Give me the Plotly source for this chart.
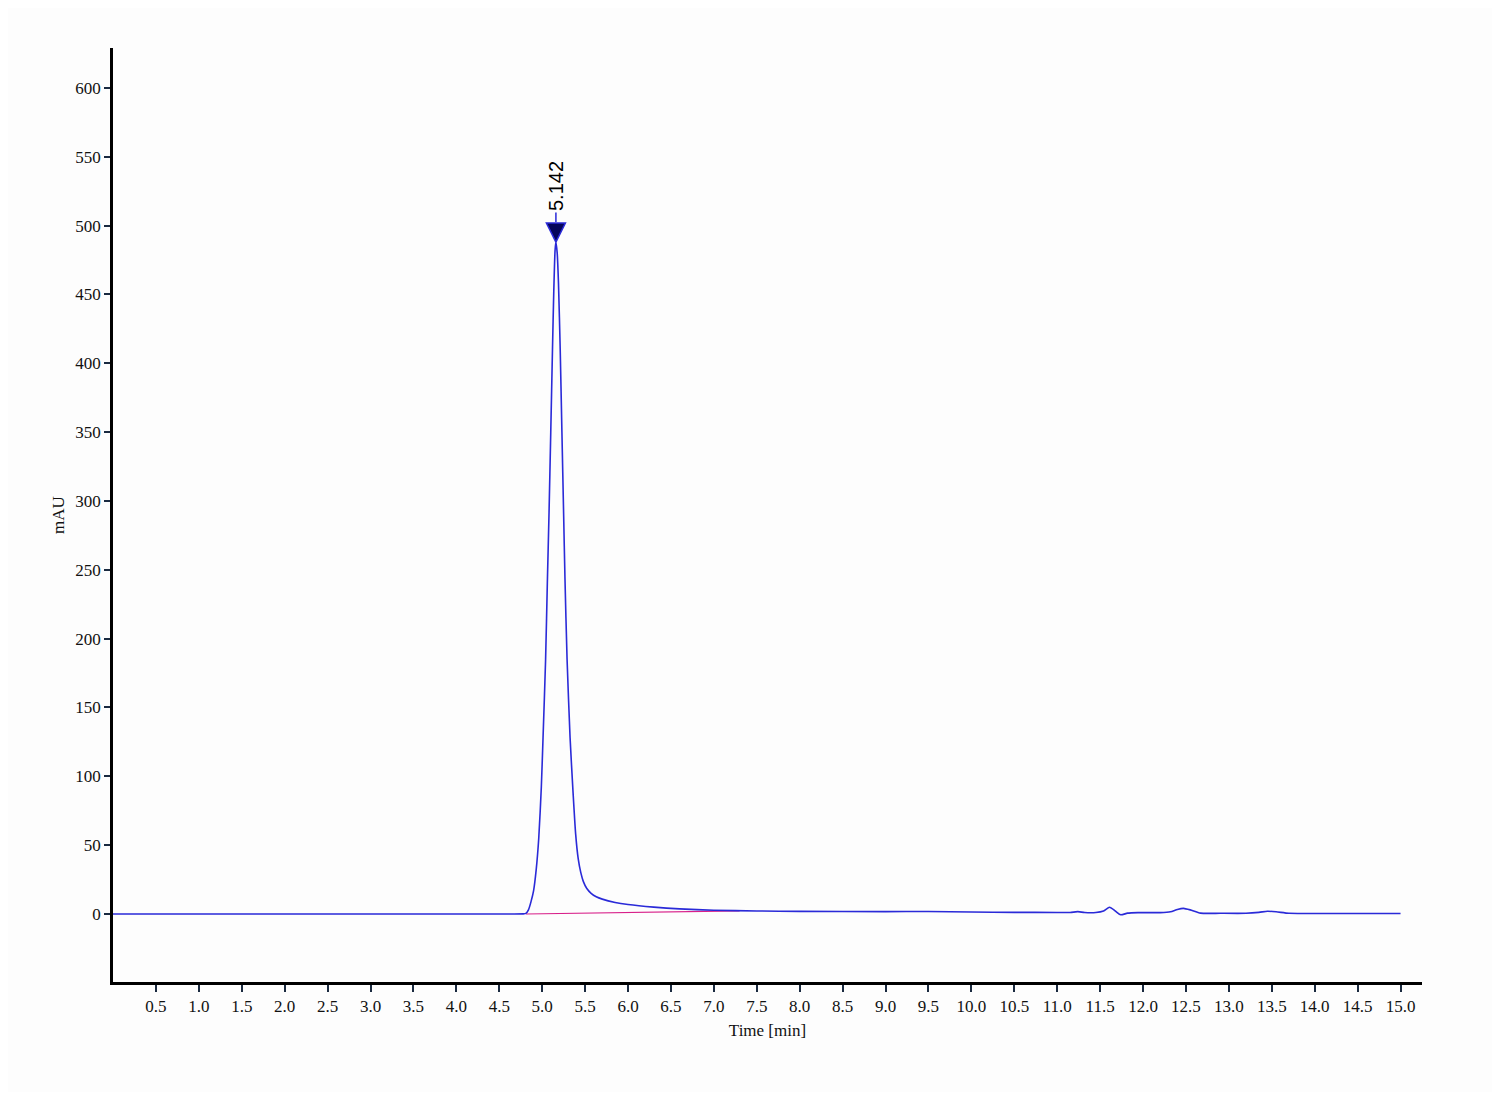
import plotly.graph_objects as go

# Chromatogram trace (Time [min], mAU)
time_min = [0, 1, 2, 3, 4, 4.5, 4.78, 4.81, 4.84, 4.87, 4.90, 4.93, 4.96, 4.99, 5.01,
            5.04, 5.06, 5.08, 5.10, 5.12, 5.135, 5.15, 5.16, 5.175, 5.19, 5.21, 5.23,
            5.25, 5.265, 5.29, 5.325, 5.36, 5.39, 5.42, 5.45, 5.48, 5.52, 5.57, 5.63,
            5.7, 5.85, 6.0, 6.3, 6.6, 7.0, 7.5, 8.0, 9.0, 9.5, 10.0, 10.5, 11.0, 11.15,
            11.24, 11.32, 11.45, 11.54, 11.61, 11.68, 11.74, 11.82, 11.94, 12.2, 12.32,
            12.40, 12.47, 12.55, 12.67, 12.9, 13.2, 13.35, 13.45, 13.55, 13.7, 14.0, 15.0]
signal_mau = [0, 0, 0, 0, 0, 0, 0.05, 0.4, 3, 9, 17, 32, 55, 92, 128,
              185, 240, 292, 350, 410, 452, 482, 488, 480, 458, 410, 350,
              290, 245, 185, 128, 88, 58, 40, 30, 23.5, 18.5, 15, 12.5,
              10.8, 8.4, 6.9, 5.0, 3.7, 2.7, 2.2, 1.9, 1.7, 1.8, 1.4, 1.2, 1.1, 1.1,
              1.7, 1.1, 1.1, 2.2, 4.9, 2.0, -0.6, 0.6, 1.0, 1.0, 1.6,
              3.3, 4.1, 3.0, 0.6, 0.5, 0.5, 1.2, 2.0, 1.6, 0.5, 0.4, 0.4]

# Integration baseline of the main peak
baseline_time = [4.81, 7.3]
baseline_mau = [0.0, 2.3]

# Peak label
peak_label = "5.142"

# Axis ticks
x_ticks = [0.5 * i for i in range(1, 31)]
y_ticks = [50 * i for i in range(0, 13)]

apex_idx = signal_mau.index(max(signal_mau))
apex_t = time_min[apex_idx]
apex_v = signal_mau[apex_idx]

fig = go.Figure()
fig.add_trace(go.Scatter(x=baseline_time, y=baseline_mau, mode="lines",
                         line=dict(color="#d8208a", width=1.2), hoverinfo="skip"))
fig.add_trace(go.Scatter(x=time_min, y=signal_mau, mode="lines",
                         line=dict(color="#2a2ad8", width=1.6, shape="spline", smoothing=0.6)))
# downward arrowhead whose tip sits on the apex
fig.add_trace(go.Scatter(x=[apex_t], y=[apex_v], mode="markers",
                         marker=dict(symbol="arrow-down", size=19, color="#05055a",
                                     line=dict(color="#2a2ad8", width=1.5)),
                         hoverinfo="skip"))

fig.add_annotation(x=apex_t, y=apex_v, text=peak_label, textangle=-90,
                   showarrow=True, arrowhead=0, arrowwidth=1.5, arrowcolor="#2a2ad8",
                   ax=0, ay=-56, standoff=20,
                   font=dict(family="Liberation Sans", size=20, color="#000000"))

axis_font = dict(family="Liberation Serif", size=17, color="#111111")
fig.update_layout(
    width=1484, height=1084,
    margin=dict(l=105, r=70, t=40, b=110),
    paper_bgcolor="#fdfdfd", plot_bgcolor="#fdfdfd",
    showlegend=False,
    xaxis=dict(range=[0, 15.25], tickvals=x_ticks, tickformat=".1f",
               showgrid=False, zeroline=False, showline=True, linecolor="#000000",
               linewidth=2.5, ticks="outside", ticklen=7, tickwidth=2,
               tickcolor="#1a2a40", tickfont=axis_font,
               title=dict(text="Time [min]", font=axis_font, standoff=9)),
    yaxis=dict(range=[-49.4, 629], tickvals=y_ticks,
               showgrid=False, zeroline=False, showline=True, linecolor="#000000",
               linewidth=2.5, ticks="outside", ticklen=6, tickwidth=2,
               tickcolor="#1a2a40", tickfont=axis_font,
               title=dict(text="mAU", font=axis_font, standoff=7)),
)

fig.write_html("out.html")
